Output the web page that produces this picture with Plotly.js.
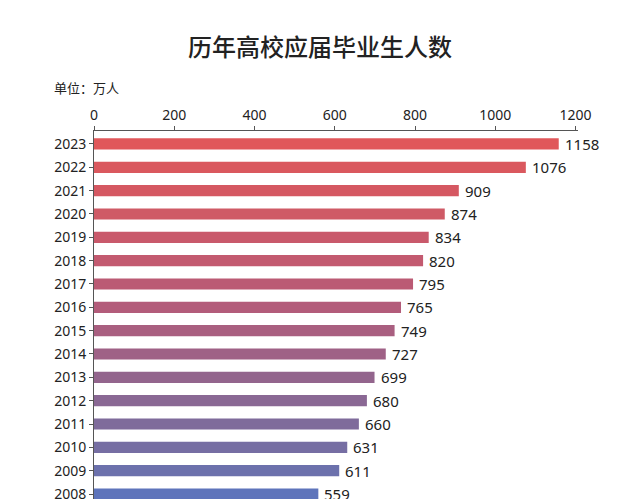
<!DOCTYPE html>
<html><head><meta charset="utf-8">
<script src="https://cdn.plot.ly/plotly-3.0.1.min.js"></script>
<style>html,body{margin:0;padding:0;background:#fff;overflow:hidden;}#chart{width:640px;height:499px;}</style>
</head><body><div id="chart"></div>
<script>
const years = ['2023','2022','2021','2020','2019','2018','2017','2016','2015','2014','2013','2012','2011','2010','2009','2008'];
const graduates = [1158,1076,909,874,834,820,795,765,749,727,699,680,660,631,611,559];
const xTicks = [0,200,400,600,800,1000,1200];
const barColors = ['#e0575a','#da585e','#d55862','#cf5a66','#c9596b','#c35a70','#bb5a74','#b35c7a','#a95f80','#9f6186','#93658d','#8a6894','#7f6b9b','#766ea3','#6c71ac','#5e74bb'];

const trace = {
  type: 'bar', orientation: 'h',
  y: years, x: graduates,
  marker: {color: barColors},
  cliponaxis: false, hoverinfo: 'none'
};
// category axis: annotation y uses the category index
const valueLabels = years.map((y, i) => ({
  x: graduates[i], y: i, xref: 'x', yref: 'y', text: String(graduates[i]),
  xanchor: 'left', yanchor: 'middle', xshift: 4, showarrow: false,
  font: {family: 'Noto Sans, sans-serif', size: 15, color: '#222'}
}));
const layout = {
  width: 640, height: 499,
  margin: {l: 94, r: 62, t: 131, b: 0},
  paper_bgcolor: '#fff', plot_bgcolor: '#fff',
  bargap: 0.52, showlegend: false,
  title: {text: '历年高校应届毕业生人数', x: 0.5, xanchor: 'center', y: 0.905, yanchor: 'middle',
          font: {family: 'Noto Sans CJK SC, sans-serif', size: 24, color: '#222', weight: 500}},
  xaxis: {side: 'top', range: [0, 1206], tickvals: xTicks, ticktext: xTicks.map(String),
          showline: true, linecolor: '#555', linewidth: 1, ticks: 'outside', ticklen: 4, tickcolor: '#555',
          showgrid: false, zeroline: false,
          tickfont: {family: 'Noto Sans, sans-serif', size: 14, color: '#222'}},
  yaxis: {type: 'category', categoryorder: 'array', categoryarray: years, range: [15.214, -0.556],
          showline: true, linecolor: '#555', linewidth: 1, ticks: 'outside', ticklen: 4, tickcolor: '#555',
          showgrid: false, zeroline: false,
          tickfont: {family: 'Noto Sans, sans-serif', size: 14, color: '#222'}},
  annotations: [{text: '单位：万人', xref: 'paper', yref: 'paper', x: -0.087, y: 1.117, xanchor: 'left', yanchor: 'middle',
                 showarrow: false, font: {family: 'Noto Sans CJK SC, sans-serif', size: 13, color: '#222'}}].concat(valueLabels)
};
Plotly.newPlot('chart', [trace], layout, {staticPlot: true, displayModeBar: false});
</script></body></html>
